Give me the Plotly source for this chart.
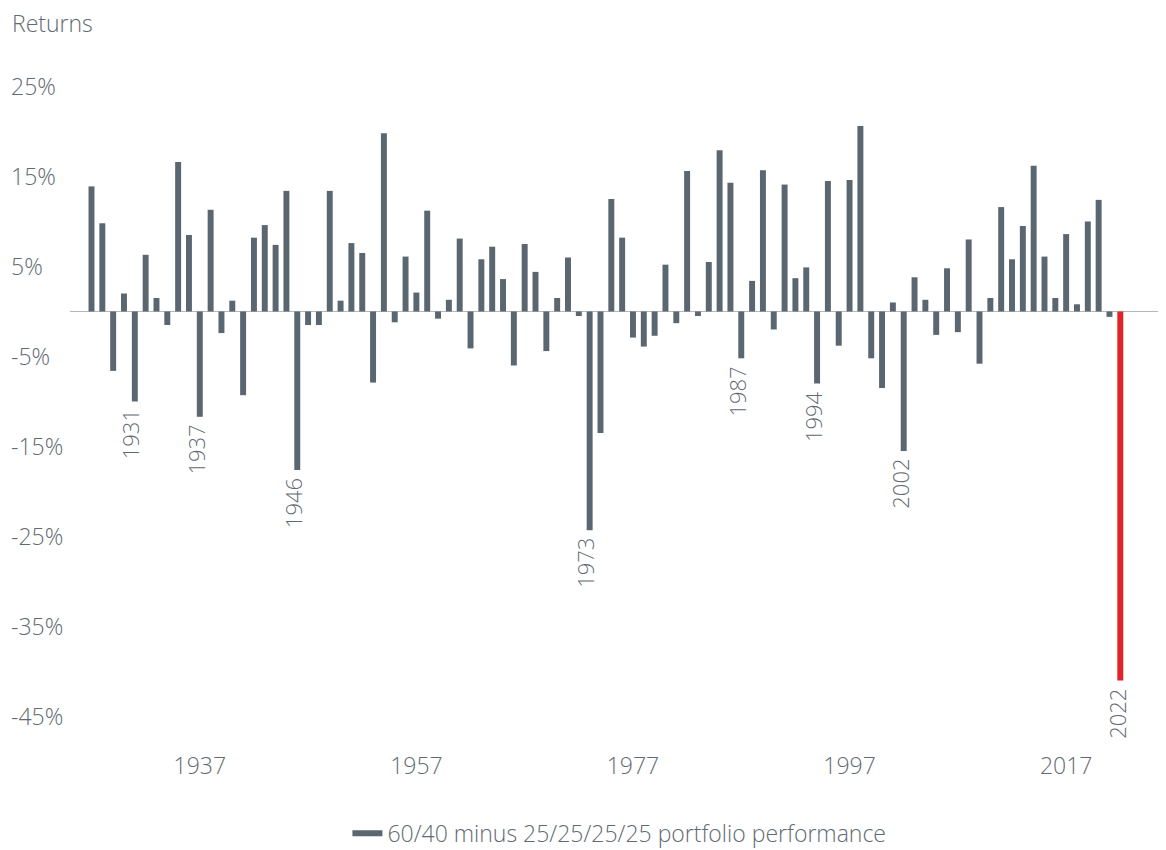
import plotly.graph_objects as go

years = list(range(1927, 2023))
returns = [
    13.9, 9.8, -6.6, 2.0, -10.0, 6.3, 1.5, -1.5, 16.6, 8.5,
    -11.7, 11.3, -2.4, 1.2, -9.3, 8.2, 9.6, 7.4, 13.4, -17.6,
    -1.5, -1.5, 13.4, 1.2, 7.6, 6.5, -7.9, 19.8, -1.2, 6.1,
    2.1, 11.2, -0.8, 1.3, 8.1, -4.1, 5.8, 7.2, 3.6, -6.0,
    7.5, 4.4, -4.4, 1.5, 6.0, -0.5, -24.3, -13.5, 12.5, 8.2,
    -2.9, -3.9, -2.7, 5.2, -1.3, 15.6, -0.5, 5.5, 17.9, 14.3,
    -5.2, 3.4, 15.7, -2.0, 14.1, 3.7, 4.9, -8.0, 14.5, -3.8,
    14.6, 20.6, -5.2, -8.5, 1.0, -15.5, 3.8, 1.3, -2.6, 4.8,
    -2.3, 8.0, -5.8, 1.5, 11.6, 5.8, 9.5, 16.2, 6.1, 1.5,
    8.6, 0.8, 10.0, 12.4, -0.6, -41.0,
]
labelled_years = [1931, 1937, 1946, 1973, 1987, 1994, 2002, 2022]
highlight_year = 2022
x_tick_years = [1937, 1957, 1977, 1997, 2017]
y_tick_values = [-45, -35, -25, -15, -5, 5, 15, 25]
y_tick_labels = [f"{v}%" for v in y_tick_values]
series_name = "60/40 minus 25/25/25/25 portfolio performance"
axis_title = "Returns"

GREY = "#5b6770"
RED = "#e2232a"
TEXT = "#5f6a72"
FONT = "Open Sans"

colors = [RED if y == highlight_year else GREY for y in years]

fig = go.Figure()
fig.add_trace(go.Bar(
    x=years, y=returns, marker=dict(color=colors, line=dict(width=0)),
    showlegend=False, hoverinfo="x+y",
))
fig.add_trace(go.Scatter(
    x=[None], y=[None], mode="lines", name=series_name,
    line=dict(color=GREY, width=6), showlegend=True,
))

val = dict(zip(years, returns))
for yr in labelled_years:
    fig.add_annotation(
        x=yr, y=val[yr], text=str(yr), showarrow=False, textangle=-90,
        yanchor="top", xanchor="center", yshift=-6, xshift=-4,
        font=dict(family=FONT, size=22, color=TEXT, weight=300),
    )

# axis caption at top-left
fig.add_annotation(
    text=axis_title, xref="paper", yref="paper", x=0.0017, y=1 + 37 / 690,
    xanchor="left", yanchor="middle", showarrow=False,
    font=dict(family=FONT, size=23, color=TEXT, weight=300),
)

fig.add_shape(
    type="line", xref="x domain", yref="y", x0=0.0535, x1=1, y0=0, y1=0,
    line=dict(color="#b3b8bc", width=1), layer="below",
)

# The page body adds an 8px offset; the figure is sized to fill the remaining window.
fig.update_layout(
    width=1158, height=842,
    margin=dict(l=0, r=0, t=52, b=100, autoexpand=False),
    paper_bgcolor="white", plot_bgcolor="white",
    font=dict(family=FONT, size=23, color=TEXT, weight=300),
    bargap=0.45,
    xaxis=dict(range=[1919.29, 2026.22], tickvals=x_tick_years,
               ticktext=[str(v) for v in x_tick_years], automargin=False,
               showgrid=False, zeroline=False, showline=False, ticks="",
               tickfont=dict(size=23, color=TEXT)),
    yaxis=dict(range=[-48.72, 27.94], tickvals=y_tick_values, ticktext=y_tick_labels,
               showgrid=False, zeroline=False, showline=False, ticks="", automargin=False,
               ticklabelposition="inside", tickfont=dict(size=23, color=TEXT)),
    legend=dict(orientation="h", x=0.528, xanchor="center", y=-0.152, yanchor="bottom",
                font=dict(size=23, color=TEXT)),
)

fig.write_html("out.html")
